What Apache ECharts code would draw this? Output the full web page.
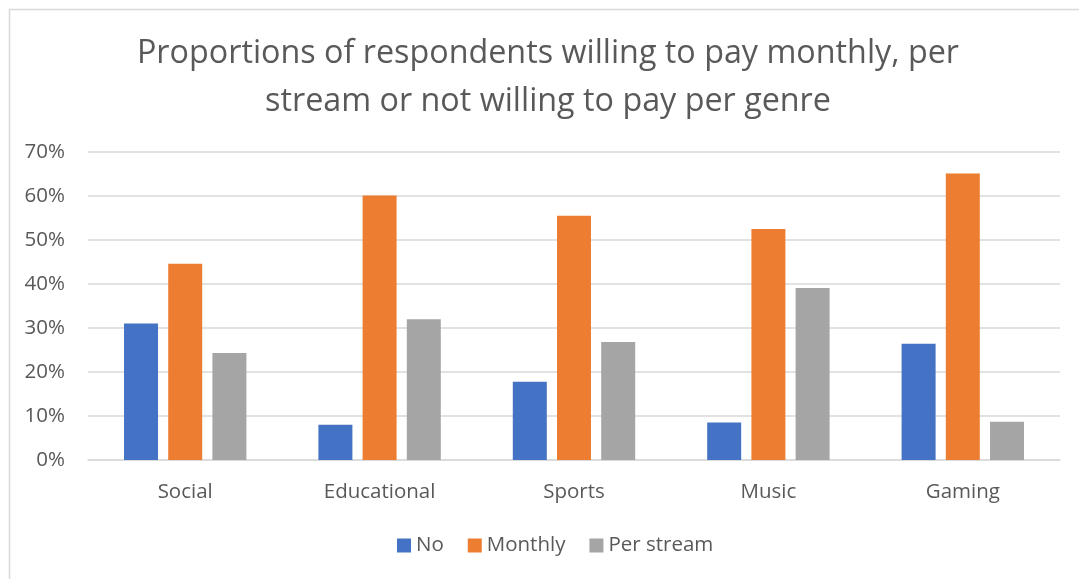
<!DOCTYPE html>
<html>
<head>
<meta charset="utf-8">
<script src="https://cdn.jsdelivr.net/npm/echarts@6/dist/echarts.min.js"></script>
<style>
  html, body { margin: 0; padding: 0; background: #ffffff; }
  #chart { width: 1079px; height: 579px; }
</style>
</head>
<body>
<div id="chart"></div>
<script>
// Genres on the x axis
const genres = ['Social', 'Educational', 'Sports', 'Music', 'Gaming'];
// Share of respondents (%) per payment preference
const noPay = [31.0, 8.0, 17.8, 8.5, 26.4];
const monthly = [44.6, 60.1, 55.5, 52.5, 65.1];
const perStream = [24.3, 32.0, 26.8, 39.1, 8.7];
// Y axis range and step (%)
const yMin = 0, yMax = 70, yStep = 10;

const FONT = '"Open Sans", "Noto Sans", sans-serif';
const TEXT = '#595959';

const chart = echarts.init(document.getElementById('chart'), null, { renderer: 'canvas' });

chart.setOption({
  backgroundColor: '#ffffff',
  animation: false,
  title: {
    text: 'Proportions of respondents willing to pay monthly, per\nstream or not willing to pay per genre',
    left: 543,
    top: 25,
    textAlign: 'center',
    textStyle: {
      fontFamily: FONT,
      fontSize: 32.3,
      fontWeight: 'normal',
      color: TEXT,
      lineHeight: 48
    }
  },
  legend: {
    bottom: 18,
    left: 392,
    itemWidth: 14,
    itemHeight: 14,
    itemGap: 24,
    icon: 'rect',
    textStyle: { fontFamily: FONT, fontSize: 20.5, color: TEXT },
    data: ['No', 'Monthly', 'Per stream']
  },
  grid: { left: 88, right: 19, top: 152, bottom: 119, containLabel: false },
  xAxis: {
    type: 'category',
    data: genres,
    axisLine: { show: true, lineStyle: { color: '#d9d9d9', width: 1.5 } },
    axisTick: { show: false },
    axisLabel: { fontFamily: FONT, fontSize: 20.5, color: TEXT, margin: 22 }
  },
  yAxis: {
    type: 'value',
    min: yMin,
    max: yMax,
    interval: yStep,
    axisLine: { show: false },
    axisTick: { show: false },
    splitLine: { lineStyle: { color: '#d9d9d9', width: 1.5 } },
    axisLabel: {
      fontFamily: FONT, fontSize: 20.5, color: TEXT, margin: 23,
      formatter: v => v + '%'
    }
  },
  series: [
    { name: 'No', type: 'bar', data: noPay, barWidth: 34, barGap: '30%',
      itemStyle: { color: '#4472c4' } },
    { name: 'Monthly', type: 'bar', data: monthly, barWidth: 34, barGap: '30%',
      itemStyle: { color: '#ed7d31' } },
    { name: 'Per stream', type: 'bar', data: perStream, barWidth: 34, barGap: '30%',
      itemStyle: { color: '#a5a5a5' } }
  ],
  graphic: [{
    type: 'rect',
    left: 7, top: 7,
    shape: { width: 1100, height: 600 },
    style: { fill: 'none', stroke: '#d9d9d9', lineWidth: 1.5 },
    silent: true,
    z: -1
  }]
});
</script>
</body>
</html>
